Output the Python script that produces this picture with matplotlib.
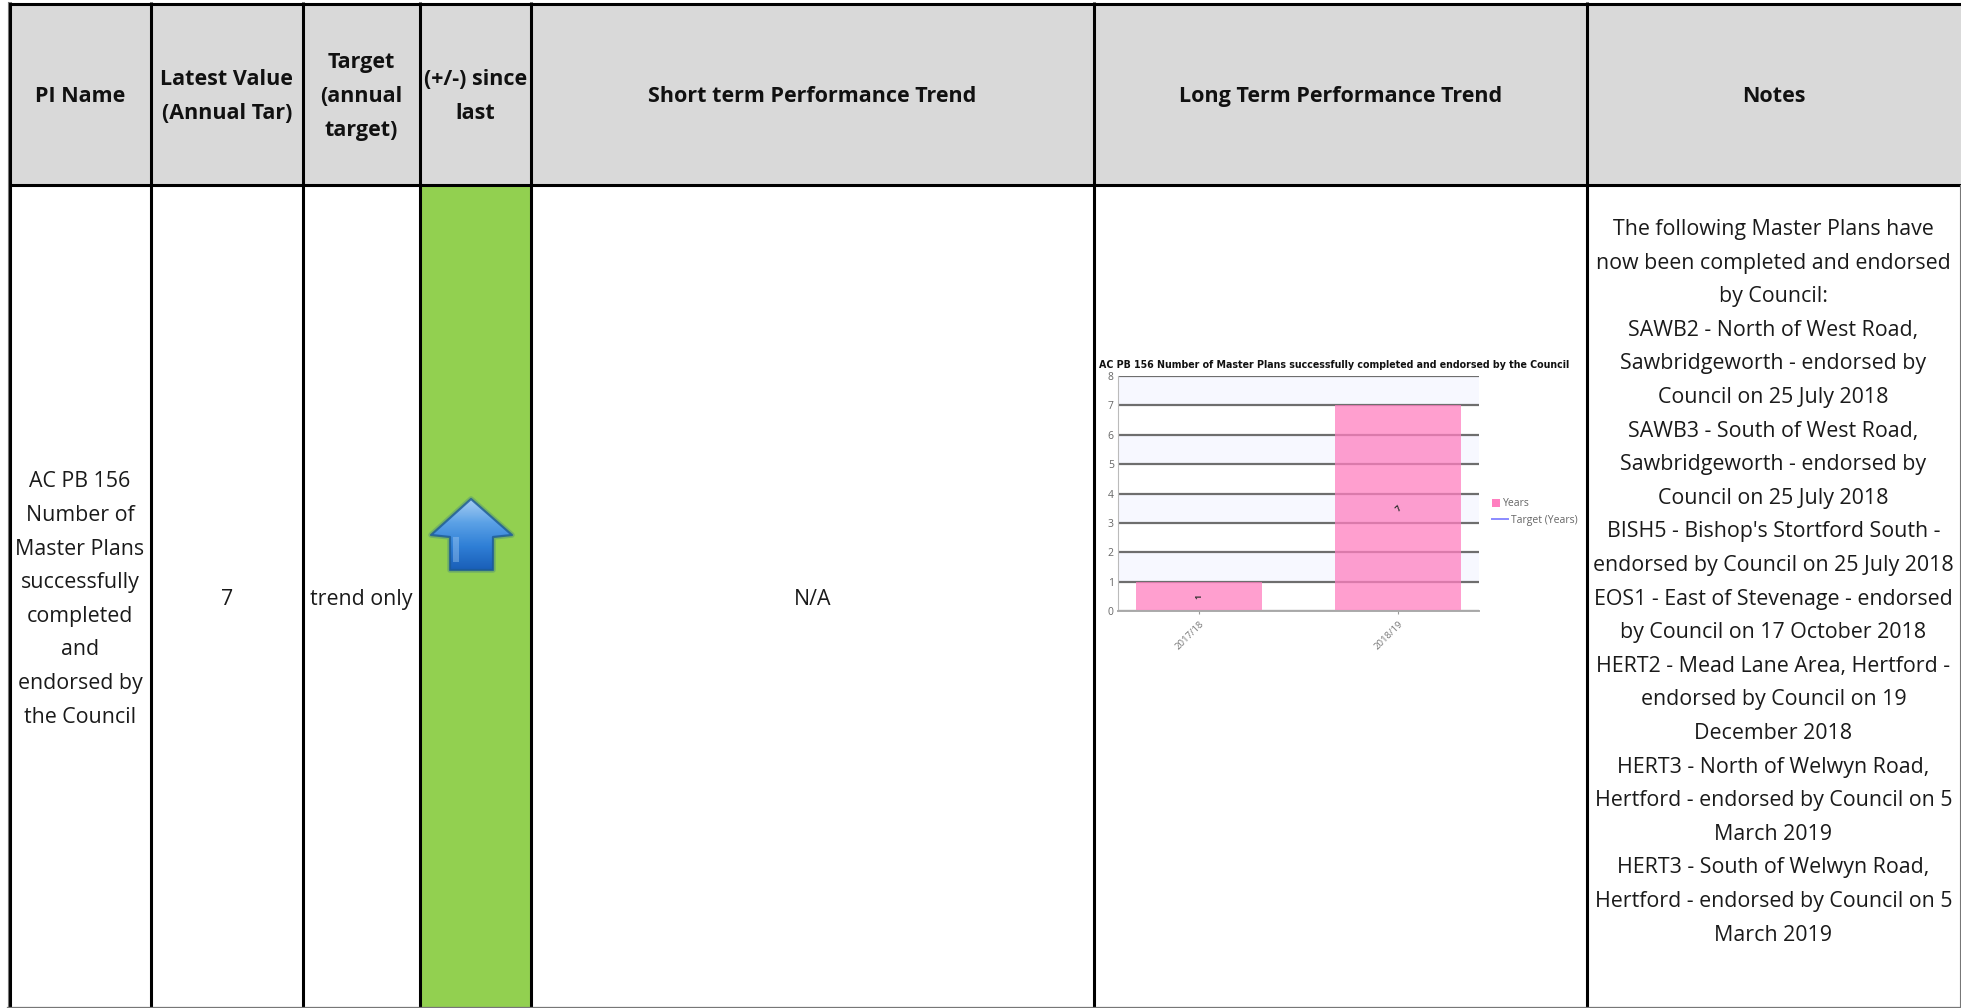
import numpy as np
import matplotlib
matplotlib.use('Agg')
import matplotlib.pyplot as plt
from matplotlib.colors import LinearSegmentedColormap
from matplotlib.patches import Polygon, Rectangle
from matplotlib.transforms import ScaledTranslation

plt.rcParams['font.family'] = ['Open Sans', 'DejaVu Sans']

headers = [['PI Name'], ['Latest Value', '(Annual Tar)'], ['Target', '(annual', 'target)'], ['(+/-) since', 'last'],
           ['Short term Performance Trend'], ['Long Term Performance Trend'], ['Notes']]
pi_name = ['AC PB 156', 'Number of', 'Master Plans', 'successfully', 'completed', 'and', 'endorsed by', 'the Council']
latest_value = ['7']
target = ['trend only']
short_term = ['N/A']
notes = ['The following Master Plans have', 'now been completed and endorsed', 'by Council:',
         'SAWB2 - North of West Road,', 'Sawbridgeworth - endorsed by', 'Council on 25 July 2018',
         'SAWB3 - South of West Road,', 'Sawbridgeworth - endorsed by', 'Council on 25 July 2018',
         "BISH5 - Bishop's Stortford South -", 'endorsed by Council on 25 July 2018',
         'EOS1 - East of Stevenage - endorsed', 'by Council on 17 October 2018',
         'HERT2 - Mead Lane Area, Hertford -', 'endorsed by Council on 19', 'December 2018',
         'HERT3 - North of Welwyn Road,', 'Hertford - endorsed by Council on 5', 'March 2019',
         'HERT3 - South of Welwyn Road,', 'Hertford - endorsed by Council on 5', 'March 2019']

chart_title = 'AC PB 156 Number of Master Plans successfully completed and endorsed by the Council'
years = ['2017/18', '2018/19']
year_values = [1, 7]

W, H = 1961, 1008
col_x = [9.5, 150.5, 303, 420, 531, 1094, 1587, 1960]
head_top, head_bot = 3.5, 185
line_step = 33.6

fig = plt.figure(figsize=(W / 100, H / 100), dpi=100)
ax = fig.add_axes([0, 0, 1, 1])
ax.set_xlim(0, W)
ax.set_ylim(H, 0)
ax.axis('off')


def put_lines(x, base_mid, lines, **kw):
    # lines are placed one by one, the row height of the table is fixed
    first = base_mid - (len(lines) - 1) * line_step / 2
    for n, line in enumerate(lines):
        ax.text(x, first + n * line_step, line, ha='center', va='baseline', **kw)


ax.add_patch(Rectangle((col_x[0], head_top), W - col_x[0], head_bot - head_top, color='#d9d9d9', lw=0))
ax.add_patch(Rectangle((col_x[3], head_bot), col_x[4] - col_x[3], H - head_bot, color='#92d050', lw=0))

# borders
for x in col_x[:-1]:
    ax.plot([x, x], [2, H], color='black', lw=2.2, solid_capstyle='butt')
ax.plot([7.5, W], [head_top, head_top], color='black', lw=2.2, solid_capstyle='butt')
ax.plot([7.5, W], [head_bot, head_bot], color='black', lw=2.2, solid_capstyle='butt')
ax.plot([7.5, 7.5], [2, H], color='#777777', lw=0.8)
ax.plot([7, W], [1006.5, 1006.5], color='#777777', lw=0.9)
ax.plot([1960.3, 1960.3], [head_bot, H], color='#777777', lw=0.8)

mid = [(col_x[i] + col_x[i + 1]) / 2 for i in range(7)]
for i, h in enumerate(headers):
    put_lines(mid[i], 102, h, fontsize=15.5, fontweight='bold', color='#111111')
for i, txt in [(0, pi_name), (1, latest_value), (2, target), (4, short_term)]:
    put_lines(mid[i], 605, txt, fontsize=15.4, color='#1a1a1a')
put_lines(mid[6], 235 + 10.5 * line_step, notes, fontsize=15.4, color='#1a1a1a')

# arrow icon
arrow = [(471, 499), (431, 535), (450, 537), (450, 570), (493, 570), (493, 537), (512, 535)]
ax.add_patch(Polygon(arrow, closed=True, fc='none', ec='#2f6f8f', lw=4, alpha=0.3, zorder=2, joinstyle='round'))
shape = Polygon(arrow, closed=True, transform=ax.transData, fc='none', ec='none')
ax.add_patch(shape)
grad = np.linspace(0, 1, 64).reshape(-1, 1)
arrow_cmap = LinearSegmentedColormap.from_list('blue', ['#a5cdf2', '#5ba1e6', '#2f7fd6', '#1a5fb8'])
im = ax.imshow(grad, extent=(431, 512, 570, 499), cmap=arrow_cmap, aspect='auto', zorder=3)
im.set_clip_path(shape)
ax.set_xlim(0, W)
ax.set_ylim(H, 0)
ax.add_patch(Rectangle((453, 537), 6, 25, color='#a9d0f5', alpha=0.4, lw=0, zorder=3.5))
ax.add_patch(Polygon(arrow, closed=True, fc='none', ec='#1c5a96', lw=1.6, alpha=0.8, zorder=4, joinstyle='round'))

# embedded long term trend chart
cax = fig.add_axes([1118 / W, 1 - 611 / H, 361 / W, 235 / H])
cax.set_ylim(0, 8)
cax.set_xlim(-0.408, 1.406)
for k in range(1, 8, 2):
    cax.axhspan(k, k + 1, color='#f7f8ff', lw=0, zorder=0)
cax.set_yticks(range(9))
cax.grid(axis='y', color='#6e6e6e', lw=1.6, zorder=1)
cax.bar(range(len(years)), year_values, width=0.635, color='#ff7fc0', alpha=0.75, lw=0, zorder=2)
for i, v in enumerate(year_values):
    cax.text(i, v / 2, str(v), rotation=90 if i == 0 else 45, ha='center', va='center', fontsize=6,
             fontweight='bold', color='#333333')
cax.set_xticks(range(len(years)))
cax.set_xticklabels(years, rotation=45, ha='right', rotation_mode='anchor', fontsize=6.8, color='#777777')
shift = ScaledTranslation(0.07, 0, fig.dpi_scale_trans)
for lab in cax.get_xticklabels():
    lab.set_transform(lab.get_transform() + shift)
cax.tick_params(axis='y', labelsize=7.5, labelcolor='#666666', length=0, pad=3)
cax.tick_params(axis='x', length=2, color='#999999', pad=4)
cax.patch.set_alpha(0)
for s in ['top', 'right']:
    cax.spines[s].set_visible(False)
cax.spines['left'].set_color('#bbbbbb')
cax.spines['bottom'].set_color('#aaaaaa')
cax.spines['bottom'].set_linewidth(1.4)

# legend of the small chart, swatch and line have different widths
ax.add_patch(Rectangle((1492, 499), 8, 8, color='#ff7fc0', lw=0))
ax.text(1503, 503, 'Years', va='center', fontsize=7.5, color='#666666')
ax.plot([1492, 1508], [519, 519], color='#8a8aff', lw=1.4)
ax.text(1511, 520, 'Target (Years)', va='center', fontsize=7.5, color='#666666')
ax.text(1334, 364.5, chart_title, ha='center', va='center', fontsize=6.87, fontweight='bold',
        family='DejaVu Sans', color='#111111')

fig.savefig('out.png', dpi=100)
